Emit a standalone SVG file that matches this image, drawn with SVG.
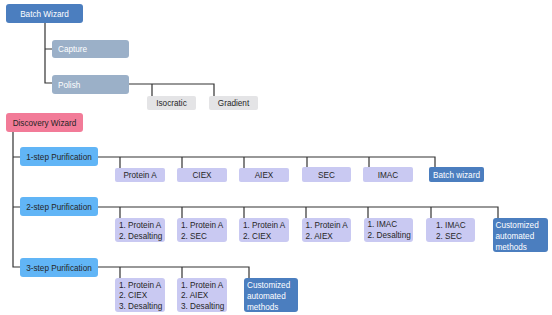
<svg xmlns="http://www.w3.org/2000/svg" width="552" height="315" viewBox="0 0 552 315">
<style>
text{font-family:"Liberation Sans",Arial,sans-serif;font-size:8.2px;fill:#262626}
.c{text-anchor:middle}
.w{fill:#fff}
.bw{fill:#4b7ebf}
.gr{fill:#9bb0c8}
.lg{fill:#e4e4e6}
.pk{fill:#f27b98}
.lb{fill:#61b5f6}
.pu{fill:#c9c9f2}
.cn path{fill:none;stroke:#333;stroke-width:1.2}
</style>
<rect width="552" height="315" fill="#fff"/>
<g class="cn">
<path d="M45 23V83H52M45 49H52"/>
<path d="M129 84H214V96M152 84V96"/>
<path d="M13 132V267H20M13 157H20M13 207H20"/>
<path d="M98 157H435V167M120 157V168M182 157V168M244 157V168M307 157V167M369 157V167"/>
<path d="M98 207H498V218M120 207V218M182 207V218M244 207V218M306 207V218M368 207V218M431 207V218"/>
<path d="M98 267H249V278M120 267V278M182 267V278"/>
</g>
<g id="batch-wizard"><rect class="bw" x="6" y="4" width="77" height="19" rx="3"/><text class="c w" x="44.5" y="16.5">Batch Wizard</text></g>
<g id="capture"><rect class="gr" x="52" y="40" width="77" height="18" rx="3"/><text class="w" x="58" y="52">Capture</text></g>
<g id="polish"><rect class="gr" x="52" y="75" width="77" height="19" rx="3"/><text class="w" x="58" y="87.5">Polish</text></g>
<g id="isocratic"><rect class="lg" x="147" y="96" width="49" height="14" rx="2"/><text class="c" x="171.5" y="106">Isocratic</text></g>
<g id="gradient"><rect class="lg" x="209" y="96" width="49" height="14" rx="2"/><text class="c" x="233.5" y="106">Gradient</text></g>
<g id="discovery-wizard"><rect class="pk" x="6" y="113" width="77" height="19" rx="3"/><text class="c" x="44.5" y="125.5">Discovery Wizard</text></g>
<g id="step1"><rect class="lb" x="20" y="147" width="78" height="19" rx="3"/><text class="c" x="59" y="159.5">1-step Purification</text></g>
<g id="step2"><rect class="lb" x="20" y="197" width="78" height="19" rx="3"/><text class="c" x="59" y="209.5">2-step Purification</text></g>
<g id="step3"><rect class="lb" x="20" y="258" width="78" height="19" rx="3"/><text class="c" x="59" y="270.5">3-step Purification</text></g>
<g id="s1-proteina"><rect class="pu" x="115" y="168" width="50" height="14" rx="2"/><text class="c" x="140" y="178">Protein A</text></g>
<g id="s1-ciex"><rect class="pu" x="177" y="168" width="50" height="14" rx="2"/><text class="c" x="202" y="178">CIEX</text></g>
<g id="s1-aiex"><rect class="pu" x="239" y="168" width="50" height="14" rx="2"/><text class="c" x="264" y="178">AIEX</text></g>
<g id="s1-sec"><rect class="pu" x="302" y="167" width="49" height="15" rx="2"/><text class="c" x="326.5" y="177.5">SEC</text></g>
<g id="s1-imac"><rect class="pu" x="363" y="167" width="50" height="15" rx="2"/><text class="c" x="388" y="177.5">IMAC</text></g>
<g id="s1-batch"><rect class="bw" x="429" y="167" width="55" height="15" rx="2"/><text class="c w" x="456.5" y="177.5">Batch wizard</text></g>
<g id="s2-a"><rect class="pu" x="115" y="218" width="50" height="24" rx="3"/><text x="119" y="228">1. Protein A</text><text x="119" y="238.5">2. Desalting</text></g>
<g id="s2-b"><rect class="pu" x="177" y="218" width="50" height="24" rx="3"/><text x="181" y="228">1. Protein A</text><text x="181" y="238.5">2. SEC</text></g>
<g id="s2-c"><rect class="pu" x="239" y="218" width="50" height="24" rx="3"/><text x="243" y="228">1. Protein A</text><text x="243" y="238.5">2. CIEX</text></g>
<g id="s2-d"><rect class="pu" x="302" y="218" width="49" height="24" rx="3"/><text x="305.5" y="228">1. Protein A</text><text x="305.5" y="238.5">2. AIEX</text></g>
<g id="s2-e"><rect class="pu" x="364" y="218" width="49" height="24" rx="3"/><text x="367.5" y="227">1. IMAC</text><text x="367.5" y="237.5">2. Desalting</text></g>
<g id="s2-f"><rect class="pu" x="426" y="218" width="49" height="24" rx="3"/><text x="436" y="228">1. IMAC</text><text x="436" y="238.5">2. SEC</text></g>
<g id="s2-custom"><rect class="bw" x="493" y="218" width="55" height="34" rx="3"/><text class="w" x="495.5" y="228">Customized</text><text class="w" x="495.5" y="239">automated</text><text class="w" x="495.5" y="249.5">methods</text></g>
<g id="s3-a"><rect class="pu" x="115" y="278" width="50" height="34" rx="3"/><text x="119" y="287.5">1. Protein A</text><text x="119" y="298">2. CIEX</text><text x="119" y="308.5">3. Desalting</text></g>
<g id="s3-b"><rect class="pu" x="177" y="278" width="50" height="34" rx="3"/><text x="181" y="287.5">1. Protein A</text><text x="181" y="298">2. AIEX</text><text x="181" y="308.5">3. Desalting</text></g>
<g id="s3-custom"><rect class="bw" x="244" y="278" width="54" height="34" rx="3"/><text class="w" x="247" y="288">Customized</text><text class="w" x="247" y="299">automated</text><text class="w" x="247" y="309.5">methods</text></g>
</svg>
